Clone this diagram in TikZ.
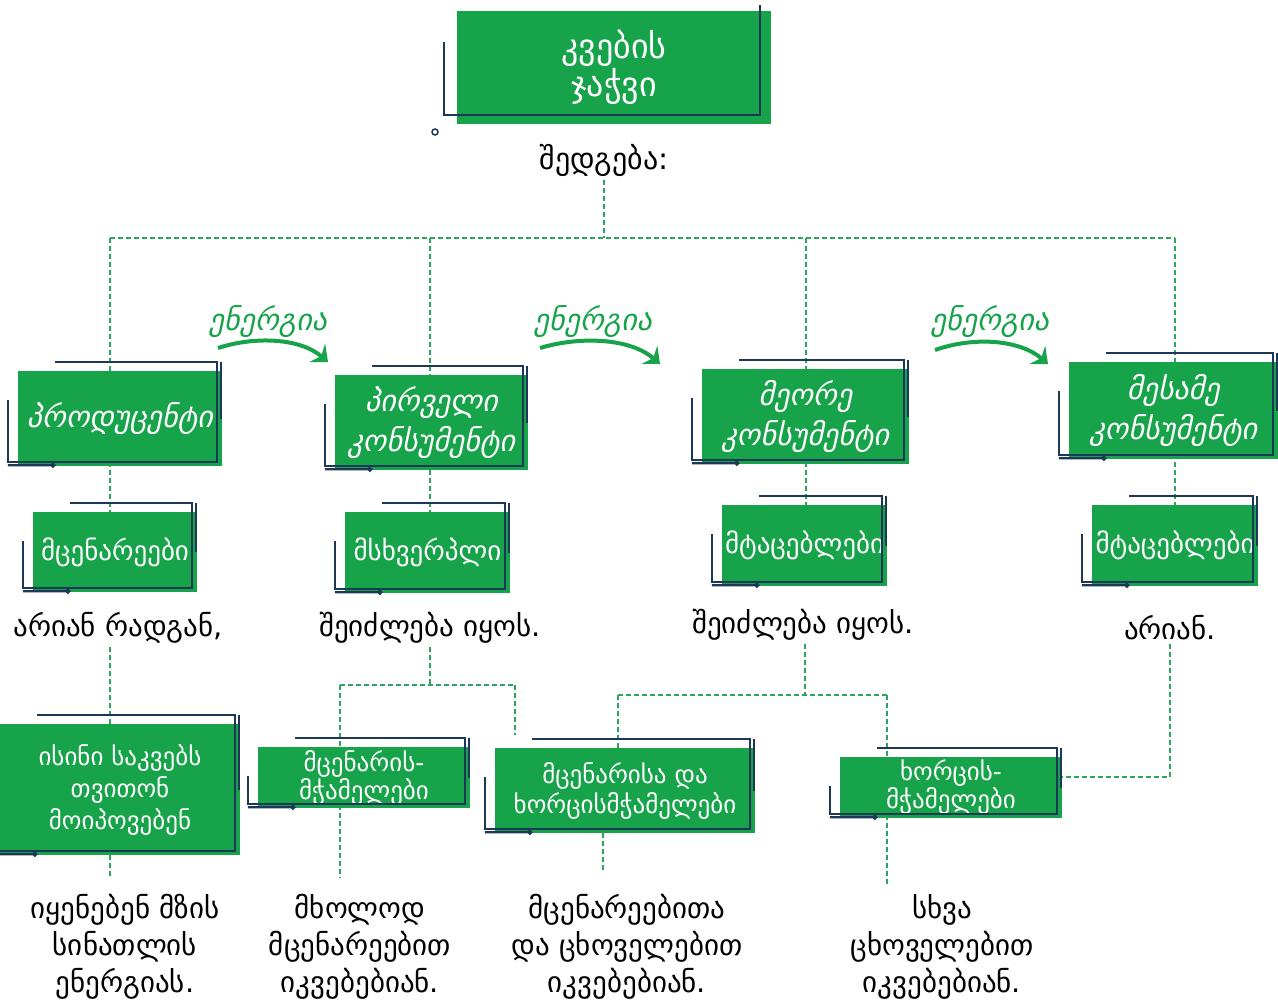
\documentclass[tikz,border=0pt]{standalone}
\usepackage{fontspec}
\setmainfont{DejaVu Sans}
\usepackage{xcolor}
\usetikzlibrary{arrows.meta, positioning, calc, backgrounds}

\definecolor{leafgreen}{RGB}{22,163,74}
\definecolor{inkblue}{RGB}{28,56,86}
\definecolor{linkgreen}{RGB}{45,165,95}

\tikzset{
  gbox/.style={fill=leafgreen, text=white, align=center, inner sep=0pt},
  topfont/.style={font=\itshape\fontsize{30}{40}\selectfont},
  subfont/.style={font=\fontsize{27}{30}\selectfont},
  lowfont/.style={font=\fontsize{25}{30}\selectfont},
  bigtext/.style={font=\fontsize{29}{37}\selectfont, align=center, text=black},
  frame/.style={draw=inkblue, line width=2.2pt},
  chain/.style={draw=linkgreen, dash pattern=on 5pt off 3pt, line width=1.4pt},
  energy/.style={draw=leafgreen, line width=4pt, -{Stealth[length=14pt,width=24pt,inset=5pt]}},
}

\begin{document}
\begin{tikzpicture}[x=1pt,y=-1pt]
        \useasboundingbox (0,0) rectangle (1278,1004);
        \newcommand{\DrawFrame}[1]{%
          \draw[frame] ($(#1.north west)+(37,-9)$) -- ($(#1.north east)+(-5,-9)$) -- ($(#1.south east)+(-5,-4)$) -- ($(#1.south west)+(-10,-4)$) -- ($(#1.north west)+(-10,29)$);
          \draw[frame] ($(#1.north east)+(-1,-9)$) -- ($(#1.east)+(-1,0)$);
          \draw[frame] ($(#1.south west)+(-10,-1)$) -- ($(#1.south west)+(35,-1)$) circle (1.5pt);
        }

        % title
        \node[gbox, minimum width=314, minimum height=113, font=\fontsize{34}{38}\selectfont] (title) at (614,67.5) {კვების\\ჯაჭვი};
        \draw[frame] ($(title.north west)+(-13,31)$) -- ($(title.south west)+(-13,-9)$) -- ($(title.south east)+(-11,-9)$) -- ($(title.north east)+(-11,-6)$);
        \draw[inkblue, line width=1.5pt] (435,132) circle (3);
        \node[bigtext, font=\fontsize{30}{37}\selectfont] (sub) at (604,160) {შედგება:};

        % first row
        \node[gbox, topfont, minimum width=204, minimum height=95] (prod) at (120,418.5) {პროდუცენტი};
        \node[gbox, topfont, minimum width=193, minimum height=95] (cons1) at (431.5,422.5) {პირველი\\კონსუმენტი};
        \node[gbox, topfont, minimum width=207, minimum height=95] (cons2) at (805.5,416.5) {მეორე\\კონსუმენტი};
        \node[gbox, topfont, minimum width=209, minimum height=97] (cons3) at (1173.5,410.5) {მესამე\\კონსუმენტი};

        % energy flow
        \node[text=leafgreen, topfont] (en1) at (268,322) {ენერგია};
        \node[text=leafgreen, topfont] (en2) at (593,322) {ენერგია};
        \node[text=leafgreen, topfont] (en3) at (990,322) {ენერგია};
        \coordinate (e1a) at (218,348); \coordinate (e1b) at (328,362);
        \coordinate (e2a) at (540,348); \coordinate (e2b) at (660,364);
        \coordinate (e3a) at (935,350); \coordinate (e3b) at (1048,364);
        \draw[energy] (e1a) .. controls (255,336) and (300,338) .. (e1b);
        \draw[energy] (e2a) .. controls (580,336) and (630,338) .. (e2b);
        \draw[energy] (e3a) .. controls (975,336) and (1020,340) .. (e3b);

        % second row
        \node[gbox, subfont, minimum width=164, minimum height=80] (plants) at (115,552) {მცენარეები};
        \node[gbox, subfont, minimum width=165, minimum height=81] (prey) at (427.5,552.5) {მსხვერპლი};
        \node[gbox, subfont, minimum width=165, minimum height=81] (pred1) at (804.5,545.5) {მტაცებლები};
        \node[gbox, subfont, minimum width=166, minimum height=81] (pred2) at (1175,545.5) {მტაცებლები};

        \node[bigtext] (say1) at (118,628) {არიან რადგან,};
        \node[bigtext] (say2) at (430,628) {შეიძლება იყოს.};
        \node[bigtext] (say3) at (803,625) {შეიძლება იყოს.};
        \node[bigtext] (say4) at (1170,628) {არიან.};

        % third row
        \node[gbox, font=\fontsize{25}{32}\selectfont, minimum width=240, minimum height=131] (self) at (120,789.5) {ისინი საკვებს\\თვითონ\\მოიპოვებენ};
        \node[gbox, lowfont, font=\fontsize{25}{28}\selectfont, minimum width=212, minimum height=61] (herb) at (364,777.5) {მცენარის-\\მჭამელები};
        \node[gbox, lowfont, minimum width=260, minimum height=85] (omni) at (625,790.5) {მცენარისა და\\ხორცისმჭამელები};
        \node[gbox, lowfont, font=\fontsize{25}{28}\selectfont, minimum width=222, minimum height=61] (carn) at (951,787.5) {ხორცის-\\მჭამელები};

        \node[bigtext] (note1) at (125,947) {იყენებენ მზის\\სინათლის\\ენერგიას.};
        \node[bigtext] (note2) at (360,947) {მხოლოდ\\მცენარეებით\\იკვებებიან.};
        \node[bigtext] (note3) at (627,947) {მცენარეებითა\\და ცხოველებით\\იკვებებიან.};
        \node[bigtext] (note4) at (942,947) {სხვა\\ცხოველებით\\იკვებებიან.};

        \foreach \n in {prod, cons1, cons2, cons3, plants, prey, pred1, pred2, self, herb, omni, carn}
          \DrawFrame{\n};

        % dashed links
        \begin{pgfonlayer}{background}
          \coordinate (bus) at (604,238);
          \coordinate (c1) at (110,238);
          \coordinate (c2) at (430,238);
          \coordinate (c3) at (806,238);
          \coordinate (c4) at (1175,238);
          \draw[chain] (sub.south) -- (bus);
          \draw[chain] (c1) -- (c4);
          \draw[chain] (c1) -- (c1 |- plants.north);
          \draw[chain] (c2) -- (c2 |- prey.north);
          \draw[chain] (c3) -- (c3 |- pred1.north);
          \draw[chain] (c4) -- (c4 |- pred2.north);

          \coordinate (h1) at (110,878);
          \draw[chain] (c1 |- say1.south) -- (h1);

          \coordinate (s2) at (430,685);
          \coordinate (s2l) at (340,685);
          \coordinate (s2r) at (515,685);
          \draw[chain] (s2 |- say2.south) -- (s2);
          \draw[chain] (s2l) -- (s2r);
          \draw[chain] (s2l) -- (340,878);
          \draw[chain] (s2r) -- (515,735);

          \coordinate (s3) at (805,695);
          \coordinate (s3l) at (618,695);
          \coordinate (s3r) at (887,695);
          \draw[chain] (s3 |- say3.south) -- (s3);
          \draw[chain] (s3l) -- (s3r);
          \draw[chain] (s3l) -- (s3l |- omni.north);
          \draw[chain] (603,833) -- (603,870);
          \draw[chain] (s3r) -- (887,885);

          \coordinate (s4) at (1170,777);
          \draw[chain] (say4.south) -- (s4) -- (carn.east |- s4);
        \end{pgfonlayer}
\end{tikzpicture}
\end{document}
